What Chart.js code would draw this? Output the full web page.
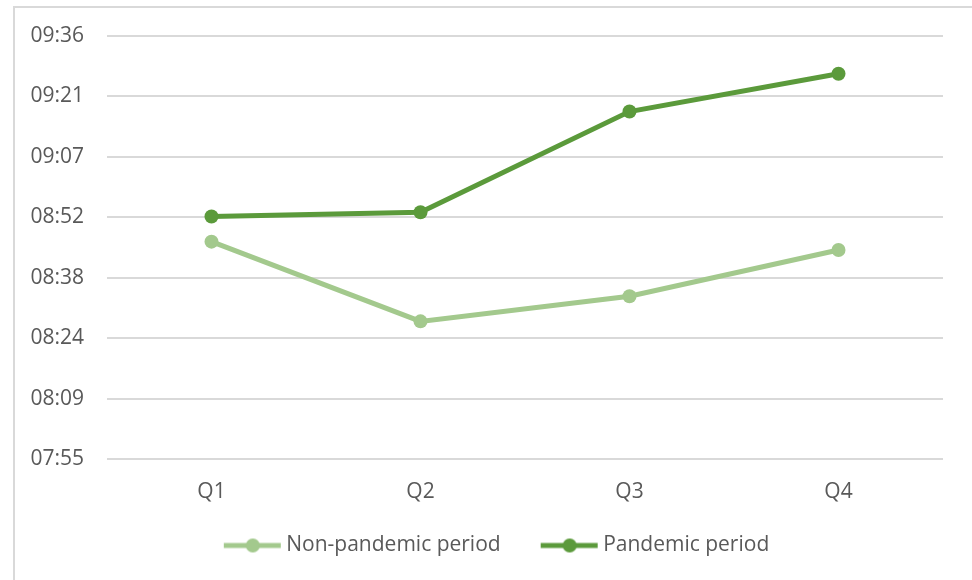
<!DOCTYPE html>
<html>
<head>
<meta charset="utf-8">
<script src="https://cdn.jsdelivr.net/npm/chart.js@4"></script>
<style>
  html, body { margin: 0; padding: 0; background: #fff; }
  #wrap { position: relative; width: 972px; height: 580px; }
  #frame { position: absolute; left: 13px; top: 6px; right: 0; bottom: 0;
           border-left: 2px solid #d9d9d9; border-top: 2px solid #d9d9d9; }
  canvas { position: absolute; left: 0; top: 0; }
</style>
</head>
<body>
<div id="wrap">
  <div id="frame"></div>
  <canvas id="chart" width="972" height="580"></canvas>
</div>
<script>
// quarters on the x axis
const quarters = ['Q1', 'Q2', 'Q3', 'Q4'];
// values are minutes after midnight (08:47 -> 527)
const nonPandemic = [527, 508, 514, 525];
const pandemic = [533, 534, 558, 567];
// y ticks (excel style, 0.01 day = 14.4 min)
const tickMinutes = [475.2, 489.6, 504, 518.4, 532.8, 547.2, 561.6, 576];
const tickLabels = ['07:55', '08:09', '08:24', '08:38', '08:52', '09:07', '09:21', '09:36'];

const lightGreen = '#a3c98d';
const darkGreen = '#5b9a3b';

// legend marker: line + dot, with blank room on the left so items sit apart
// box is 82 wide, image overflows 6px each side
function legendMark(color) {
    const c = document.createElement('canvas');
    c.width = 94;
    c.height = 20;
    const ctx = c.getContext('2d');
    ctx.strokeStyle = color;
    ctx.lineWidth = 5;
    ctx.beginPath();
    ctx.moveTo(36, 10);
    ctx.lineTo(93, 10);
    ctx.stroke();
    ctx.fillStyle = color;
    ctx.beginPath();
    ctx.arc(65, 10, 7, 0, Math.PI * 2);
    ctx.fill();
    return c;
}

const data = {
    labels: quarters,
    datasets: [{
        label: 'Non-pandemic period',
        data: nonPandemic,
        borderColor: lightGreen,
        backgroundColor: lightGreen,
        borderWidth: 5,
        pointRadius: 7,
        pointBackgroundColor: lightGreen,
        pointBorderWidth: 0,
        tension: 0
    }, {
        label: 'Pandemic period',
        data: pandemic,
        borderColor: darkGreen,
        backgroundColor: darkGreen,
        borderWidth: 5,
        pointRadius: 7,
        pointBackgroundColor: darkGreen,
        pointBorderWidth: 0,
        tension: 0
    }]
};

const marks = [legendMark(lightGreen), legendMark(darkGreen)];

const config = {
    type: 'line',
    data: data,
    options: {
        responsive: false,
        animation: false,
        layout: { padding: { left: 20, right: 29, top: 36, bottom: 14 } },
        plugins: {
            tooltip: { enabled: false },
            legend: {
                position: 'bottom',
                labels: {
                    usePointStyle: true,
                    pointStyleWidth: 82,
                    boxHeight: 20,
                    padding: 10,
                    color: '#595959',
                    font: { family: 'Open Sans', size: 21 },
                    generateLabels: function(chart) {
                        return chart.data.datasets.map(function(ds, i) {
                            return {
                                text: ds.label,
                                fillStyle: ds.borderColor,
                                strokeStyle: ds.borderColor,
                                lineWidth: 0,
                                pointStyle: marks[i],
                                fontColor: '#595959',
                                datasetIndex: i,
                                hidden: false
                            };
                        });
                    }
                }
            }
        },
        scales: {
            x: {
                offset: true,
                grid: { display: false, drawTicks: false },
                border: { display: false },
                ticks: { color: '#595959', padding: 20, font: { family: 'Open Sans', size: 21 } },
                afterFit: function(s) { s.height = 66; }
            },
            y: {
                min: tickMinutes[0],
                max: tickMinutes[tickMinutes.length - 1],
                grid: { color: '#d9d9d9', lineWidth: 2, drawTicks: false },
                border: { display: false },
                afterBuildTicks: function(s) {
                    s.ticks = tickMinutes.map(function(v) { return { value: v }; });
                },
                ticks: {
                    color: '#595959',
                    padding: 23,
                    font: { family: 'Open Sans', size: 21 },
                    callback: function(v, i) { return tickLabels[i]; }
                },
                afterFit: function(s) { s.width = 87; }
            }
        }
    }
};

const lineChart = new Chart(document.getElementById('chart'), config);
</script>
</body>
</html>
